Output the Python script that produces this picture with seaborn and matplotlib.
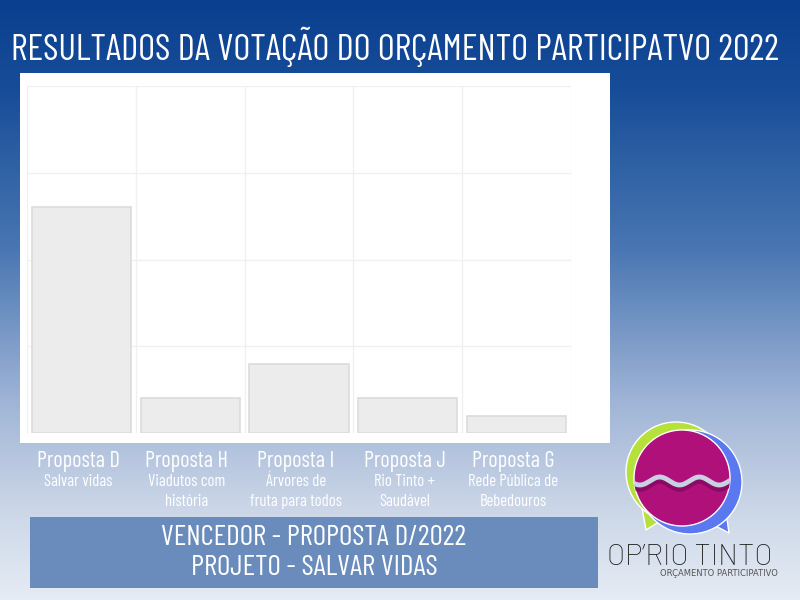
import numpy as np
import pandas as pd
import matplotlib
matplotlib.use("Agg")
import matplotlib.pyplot as plt
import matplotlib.colors as mcolors
from matplotlib.patches import Rectangle, Circle, Polygon
from matplotlib.transforms import blended_transform_factory
import seaborn as sns

# dados da votação (votos estimados a partir da imagem)
propostas = ["Proposta D", "Proposta H", "Proposta I", "Proposta J", "Proposta G"]
descricoes = ["Salvar vidas", "Viadutos com\nhistória", "Árvores de\nfruta para todos",
              "Rio Tinto +\nSaudável", "Rede Pública de\nBebedouros"]
votos = [130, 20, 40, 20, 10]
y_ticks = [0, 50, 100, 150, 200]

titulo = "RESULTADOS DA VOTAÇÃO DO ORÇAMENTO PARTICIPATVO 2022"
vencedor = "VENCEDOR - PROPOSTA D/2022\nPROJETO - SALVAR VIDAS"

sns.set_style("white")
FONTE = ["Barlow Condensed", "DejaVu Sans"]
plt.rcParams["font.family"] = FONTE
plt.rcParams["font.stretch"] = "condensed"

W, H = 800, 600
fig = plt.figure(figsize=(8, 6), dpi=100)

# fundo em degradê
bg = fig.add_axes([0, 0, 1, 1], zorder=0)
bg.set_xlim(0, W)
bg.set_ylim(H, 0)
bg.axis("off")
stops = [(0, "#0a3f8f"), (90, "#174d98"), (250, "#4a77b3"), (400, "#9fb4d6"),
         (500, "#c8d4e6"), (600, "#e6ecf5")]
rows = np.arange(H)
rgb = np.array([mcolors.to_rgb(c) for _, c in stops])
pos = [p for p, _ in stops]
grad = np.stack([np.interp(rows, pos, rgb[:, k]) for k in range(3)], axis=-1)
grad = np.repeat(grad[:, None, :], W, axis=1)
bg.imshow(grad, extent=(0, W, H, 0), aspect="auto", zorder=0)

# painel branco do gráfico
bg.add_patch(Rectangle((20, 73), 590, 370, facecolor="white", edgecolor="none", zorder=1))

# faixa do vencedor
bg.add_patch(Rectangle((30, 517), 568, 71, facecolor="#6a8cbc", edgecolor="none", zorder=1))
bg.text(314, 553, vencedor, color="white", fontsize=21, ha="center", va="center",
        linespacing=1.2, zorder=2)

# título
bg.text(395, 47, titulo, color="white", fontsize=26.5, ha="center", va="center", zorder=2)

# logótipo OP'Rio Tinto
bg.add_patch(Polygon([[642, 508], [662, 520], [646, 530]], facecolor="#b6e03a", zorder=2))
bg.add_patch(Polygon([[708, 522], [726, 512], [729, 533]], facecolor="#5a78f0", zorder=2))
bg.add_patch(Circle((676, 472), 50, facecolor="#b6e03a", zorder=2))
bg.add_patch(Circle((690, 482), 52, facecolor="#5a78f0", zorder=2))
mag = Circle((682, 478), 48, facecolor="#b0107a", zorder=3)
bg.add_patch(mag)
wx = np.linspace(630, 735, 200)
wy = 481 + 4 * np.sin((wx - 630) / 103 * 2.6 * 2 * np.pi)
sombra, = bg.plot(wx, wy + 4, color="#8a0a64", lw=4, zorder=4, solid_capstyle="butt")
onda, = bg.plot(wx, wy, color="#c8d0e2", lw=3.5, zorder=5, solid_capstyle="butt")
sombra.set_clip_path(mag)
onda.set_clip_path(mag)
bg.text(607, 565, "OP’RIO TINTO", color="#1a1a1a", fontsize=21, ha="left", va="baseline",
        family=["Barlow", "DejaVu Sans"], fontweight="light", fontstretch="normal",
        zorder=3)
bg.text(660, 574, "ORÇAMENTO PARTICIPATIVO", color="#555555", fontsize=6, ha="left",
        va="center", family=["DejaVu Sans"], fontstretch="normal", zorder=3)

# gráfico de barras
ax = fig.add_axes([27 / W, 1 - 433 / H, 544 / W, 347 / H], zorder=1)
ax.patch.set_alpha(0)
df = pd.DataFrame({"proposta": propostas, "votos": votos})
sns.barplot(data=df, x="proposta", y="votos", color="#ececec", edgecolor="#dcdcdc",
            linewidth=1.2, width=0.91, saturation=1, ax=ax)
ax.set_ylim(0, 200)
ax.set_xlim(-0.5, len(propostas) - 0.5)
ax.set_yticks(y_ticks)
ax.set_xticks(np.arange(len(propostas) + 1) - 0.5)
ax.grid(True, color="#f0f0f0", lw=1)
ax.set_axisbelow(True)
ax.tick_params(axis="x", length=3, color="#e6e6e6", labelbottom=False)
ax.tick_params(axis="y", length=0, labelleft=False)
ax.set_xlabel("")
ax.set_ylabel("")
sns.despine(ax=ax, left=True, bottom=True)

# rótulos das propostas
trans = blended_transform_factory(ax.transData, fig.transFigure)
for i, (p, d) in enumerate(zip(propostas, descricoes)):
    ax.text(i - 0.03, 1 - 462 / H, p, transform=trans, color="white", fontsize=16,
            ha="center", va="center", clip_on=False)
    ax.text(i - 0.03, 1 - 474 / H, d, transform=trans, color="white", fontsize=12,
            ha="center", va="top", linespacing=1.4, clip_on=False)

fig.savefig("out.png", dpi=100)
